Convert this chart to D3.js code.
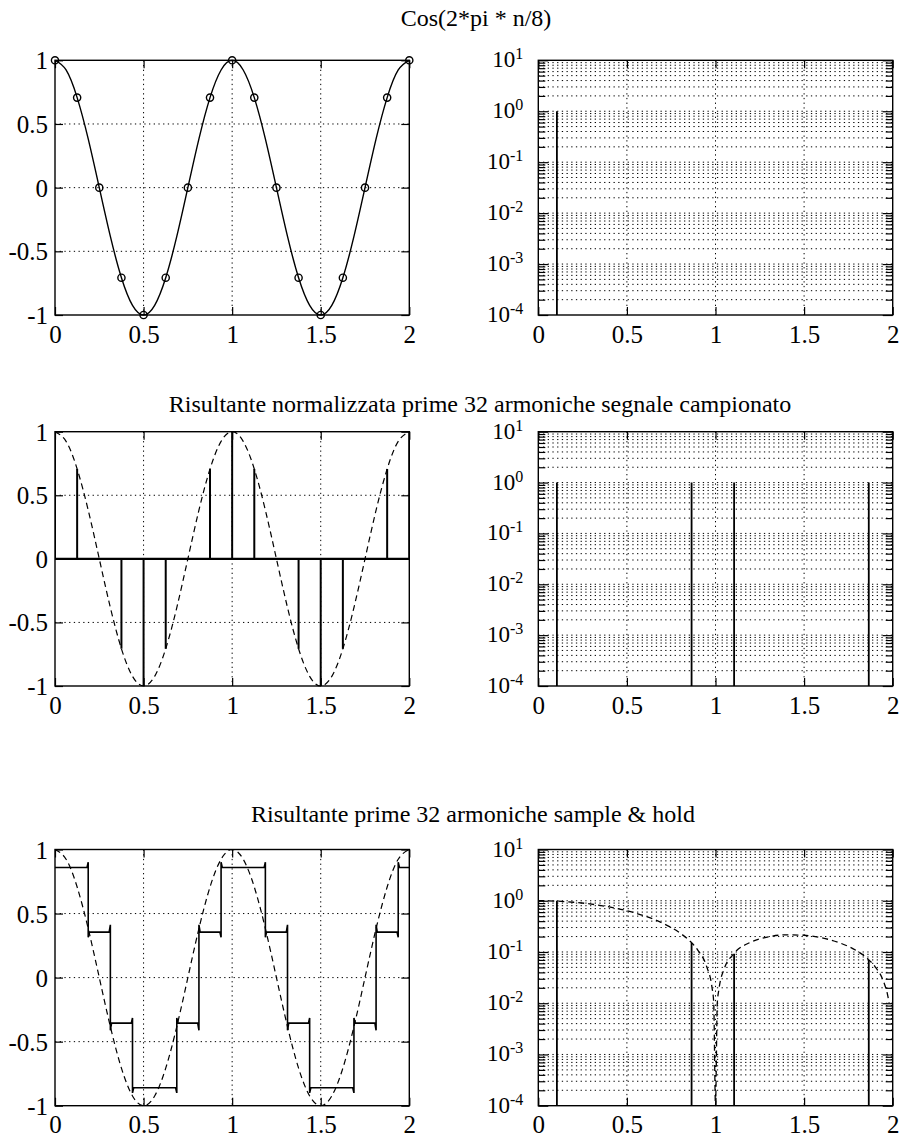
<!DOCTYPE html>
<html><head><meta charset="utf-8">
<script src="https://cdn.jsdelivr.net/npm/d3@7"></script>
<style>
body{margin:0;background:#fff}
svg{display:block;background:#fff}
text{font-family:"Liberation Serif","Times New Roman",serif;fill:#000}
</style></head><body>
<svg id="c" width="901" height="1137"></svg>
<script>
// ---------- data ----------
const xTicks = [0, 0.5, 1, 1.5, 2];
const xTickLabels = ["0", "0.5", "1", "1.5", "2"];
const yTicksLin = [-1, -0.5, 0, 0.5, 1];
const yTickLabelsLin = ["-1", "-0.5", "0", "0.5", "1"];
const logExps = [-4, -3, -2, -1, 0, 1];
const logExpLabels = ["-4", "-3", "-2", "-1", "0", "1"];
const titles = ["Cos(2*pi * n/8)",
  "Risultante normalizzata prime 32 armoniche segnale campionato",
  "Risultante prime 32 armoniche sample & hold"];
const titleCenters = [476, 480, 473];

// samples of cos(2*pi*n/8)
const sampleX = [0, 0.125, 0.25, 0.375, 0.5, 0.625, 0.75, 0.875, 1, 1.125, 1.25, 1.375, 1.5, 1.625, 1.75, 1.875, 2];
const sampleY = [1, 0.707, 0, -0.707, -1, -0.707, 0, 0.707, 1, 0.707, 0, -0.707, -1, -0.707, 0, 0.707, 1];

// continuous cosine read at 1/16 steps
const cosX = [0, 0.0625, 0.125, 0.1875, 0.25, 0.3125, 0.375, 0.4375, 0.5, 0.5625, 0.625, 0.6875, 0.75, 0.8125, 0.875, 0.9375,
  1, 1.0625, 1.125, 1.1875, 1.25, 1.3125, 1.375, 1.4375, 1.5, 1.5625, 1.625, 1.6875, 1.75, 1.8125, 1.875, 1.9375, 2];
const cosY = [1, 0.924, 0.707, 0.383, 0, -0.383, -0.707, -0.924, -1, -0.924, -0.707, -0.383, 0, 0.383, 0.707, 0.924,
  1, 0.924, 0.707, 0.383, 0, -0.383, -0.707, -0.924, -1, -0.924, -0.707, -0.383, 0, 0.383, 0.707, 0.924, 1];

// spectra (log plots)
const spec1X = [0.105];
const spec1Y = [1];
const spec2X = [0.105, 0.865, 1.105, 1.865];
const spec2Y = [1, 1, 1, 1];
const spec3X = [0.105, 0.865, 1.105, 1.865];
const spec3Y = [1, 0.15, 0.092, 0.07];

// |sinc| envelope (dashed, bottom right)
const envX = [0, 0.05, 0.1, 0.2, 0.3, 0.4, 0.5, 0.6, 0.7, 0.8, 0.86, 0.9, 0.95, 0.98, 0.99, 1.0, 1.01, 1.02, 1.05, 1.1,
  1.2, 1.3, 1.4, 1.5, 1.6, 1.7, 1.8, 1.86, 1.9, 1.95, 1.97, 1.98];
const envY = [1, 0.996, 0.984, 0.935, 0.858, 0.757, 0.637, 0.505, 0.368, 0.234, 0.158, 0.109, 0.052, 0.0205, 0.0102, 0.0001,
  0.0099, 0.0194, 0.0476, 0.0899, 0.156, 0.198, 0.216, 0.212, 0.189, 0.151, 0.104, 0.073, 0.052, 0.0256, 0.0152, 0.0102];

// sample & hold staircase (32 harmonics)
const shBreaks = [0, 0.1875, 0.3125, 0.4375, 0.6875, 0.8125, 0.9375, 1.1875, 1.3125, 1.4375, 1.6875, 1.8125, 1.9375, 2];
const shLevels = [0.86, 0.355, -0.355, -0.86, -0.355, 0.355, 0.86, 0.355, -0.355, -0.86, -0.355, 0.355, 0.86];
const gibbsFrac = 0.08;

// ---------- layout ----------
const FONT = '"Liberation Serif","Times New Roman",serif';
const svg = d3.select('#c');
const cols = [{x0: 55, x1: 409.3}, {x0: 538.3, x1: 892.7}];
const rows = [{y0: 60.3, y1: 315}, {y0: 431.7, y1: 686}, {y0: 849.5, y1: 1105.7}];
const titleBase = [26, 412, 822];
const dotted = "1.3,3.4";

titles.forEach((t, i) => {
  svg.append('text').attr('x', titleCenters[i]).attr('y', titleBase[i])
    .attr('text-anchor', 'middle').attr('font-size', 24).attr('font-family', FONT).text(t);
});

function styleAxis(g) {
  g.attr('font-family', FONT).attr('font-size', null);
  g.select('.domain').remove();
  g.selectAll('line').attr('stroke', '#000').attr('stroke-width', 1.2);
  g.selectAll('text').attr('font-family', FONT).attr('fill', '#000');
}

function panel(c, r, log) {
  const C = cols[c], Rw = rows[r];
  const g = svg.append('g');
  const x = d3.scaleLinear([0, 2], [C.x0, C.x1]);
  const y = log ? d3.scaleLog([1e-4, 10], [Rw.y1, Rw.y0]) : d3.scaleLinear([-1, 1], [Rw.y1, Rw.y0]);
  const clipId = 'clip' + c + r;
  svg.append('clipPath').attr('id', clipId).append('rect')
    .attr('x', C.x0).attr('y', Rw.y0 - 1).attr('width', C.x1 - C.x0).attr('height', Rw.y1 - Rw.y0 + 2);

  // grid
  const grid = g.append('g').attr('stroke', '#000').attr('stroke-width', 1).attr('stroke-dasharray', dotted);
  xTicks.slice(1, -1).forEach(v => grid.append('line').attr('x1', x(v)).attr('x2', x(v)).attr('y1', Rw.y0).attr('y2', Rw.y1));
  let hVals;
  if (log) {
    hVals = [];
    logExps.slice(0, -1).forEach(e => { for (let k = 1; k <= 9; k++) hVals.push(k * Math.pow(10, e)); });
    hVals = hVals.slice(1);
  } else hVals = yTicksLin.slice(1, -1);
  hVals.forEach(v => grid.append('line').attr('x1', C.x0).attr('x2', C.x1).attr('y1', y(v)).attr('y2', y(v)));

  // ticks (inward) via d3 axes
  const xb = g.append('g').attr('transform', `translate(0,${Rw.y1})`)
    .call(d3.axisBottom(x).tickValues(xTicks).tickSize(-8).tickPadding(10).tickFormat((d, i) => xTickLabels[i]));
  styleAxis(xb);
  xb.selectAll('text').attr('font-size', 25).attr('dy', '0.71em');
  const xt = g.append('g').attr('transform', `translate(0,${Rw.y0})`)
    .call(d3.axisTop(x).tickValues(xTicks).tickSize(-8).tickFormat(''));
  styleAxis(xt);

  if (log) {
    const majors = logExps.map(e => Math.pow(10, e));
    const minors = hVals.filter(v => !majors.some(m => Math.abs(m - v) / m < 1e-9));
    [[d3.axisLeft, C.x0], [d3.axisRight, C.x1]].forEach(([ax, px]) => {
      const a1 = g.append('g').attr('transform', `translate(${px},0)`)
        .call(ax(y).tickValues(majors).tickSize(-10).tickFormat(''));
      styleAxis(a1);
      const a2 = g.append('g').attr('transform', `translate(${px},0)`)
        .call(ax(y).tickValues(minors).tickSize(-7).tickFormat(''));
      styleAxis(a2);
    });
    logExps.forEach((e, i) => {
      const t = g.append('text').attr('x', C.x0 - 15).attr('y', y(Math.pow(10, e)) + 7)
        .attr('text-anchor', 'end').attr('font-size', 23).attr('font-family', FONT);
      t.append('tspan').text('10');
      t.append('tspan').attr('dy', -8).attr('font-size', 16).text(logExpLabels[i]);
    });
  } else {
    const yl = g.append('g').attr('transform', `translate(${C.x0},0)`)
      .call(d3.axisLeft(y).tickValues(yTicksLin).tickSize(-8).tickPadding(7).tickFormat((d, i) => yTickLabelsLin[i]));
    styleAxis(yl);
    yl.selectAll('text').attr('font-size', 25).attr('dy', '0.34em');
    const yr = g.append('g').attr('transform', `translate(${C.x1},0)`)
      .call(d3.axisRight(y).tickValues(yTicksLin).tickSize(-8).tickFormat(''));
    styleAxis(yr);
  }
  // box
  g.append('rect').attr('x', C.x0).attr('y', Rw.y0).attr('width', C.x1 - C.x0).attr('height', Rw.y1 - Rw.y0)
    .attr('fill', 'none').attr('stroke', '#000').attr('stroke-width', 1.4);
  const plot = svg.append('g').attr('clip-path', `url(#${clipId})`);
  return {x, y, plot};
}

// ---- Panel 1: cosine with samples ----
{
  const {x, y, plot} = panel(0, 0, false);
  const pts = cosX.map((v, i) => [v, cosY[i]]);
  plot.append('path').attr('d', d3.line().x(d => x(d[0])).y(d => y(d[1])).curve(d3.curveNatural)(pts))
    .attr('fill', 'none').attr('stroke', '#000').attr('stroke-width', 1.4);
  svg.append('g').selectAll('circle').data(sampleX).join('circle')
    .attr('cx', d => x(d)).attr('cy', (d, i) => y(sampleY[i])).attr('r', 3.6)
    .attr('fill', 'none').attr('stroke', '#000').attr('stroke-width', 1.4);
}
function spectrum(c, r, sx, sy, extra) {
  const {x, y, plot} = panel(c, r, true);
  plot.selectAll('line.s').data(sx).join('line').attr('class', 's')
    .attr('x1', d => x(d)).attr('x2', d => x(d)).attr('y1', y(1e-4)).attr('y2', (d, i) => y(sy[i]))
    .attr('stroke', '#000').attr('stroke-width', 1.8);
  if (extra) extra(x, y, plot);
}
spectrum(1, 0, spec1X, spec1Y);

// ---- Panel 3: stems ----
{
  const {x, y, plot} = panel(0, 1, false);
  const pts = cosX.map((v, i) => [v, cosY[i]]);
  plot.append('path').attr('d', d3.line().x(d => x(d[0])).y(d => y(d[1])).curve(d3.curveNatural)(pts))
    .attr('fill', 'none').attr('stroke', '#000').attr('stroke-width', 1.2).attr('stroke-dasharray', '6,4');
  plot.append('line').attr('x1', x(0)).attr('x2', x(2)).attr('y1', y(0)).attr('y2', y(0))
    .attr('stroke', '#000').attr('stroke-width', 2.2);
  plot.selectAll('line.s').data(sampleX).join('line').attr('class', 's')
    .attr('x1', d => x(d)).attr('x2', d => x(d)).attr('y1', y(0)).attr('y2', (d, i) => y(sampleY[i]))
    .attr('stroke', '#000').attr('stroke-width', 2);
}
spectrum(1, 1, spec2X, spec2Y);

// ---- Panel 5: sample & hold ----
{
  const {x, y, plot} = panel(0, 2, false);
  const pts = cosX.map((v, i) => [v, cosY[i]]);
  plot.append('path').attr('d', d3.line().x(d => x(d[0])).y(d => y(d[1])).curve(d3.curveNatural)(pts))
    .attr('fill', 'none').attr('stroke', '#000').attr('stroke-width', 1.2).attr('stroke-dasharray', '6,4');
  const dx = x.invert(x(0) + 1.2) - 0;
  const sp = [];
  shLevels.forEach((lv, i) => {
    const xa = shBreaks[i], xb = shBreaks[i + 1];
    sp.push([i === 0 ? xa : xa + dx, lv]);
    if (i < shLevels.length - 1) {
      const nb = shLevels[i + 1], s = Math.sign(lv - nb), o = gibbsFrac * Math.abs(lv - nb);
      sp.push([xb - dx, lv]);
      sp.push([xb, lv + s * o]);
      sp.push([xb, nb - s * o]);
    } else sp.push([xb, lv]);
  });
  plot.append('path').attr('d', d3.line().x(d => x(d[0])).y(d => y(d[1]))(sp))
    .attr('fill', 'none').attr('stroke', '#000').attr('stroke-width', 1.6);
}
spectrum(1, 2, spec3X, spec3Y, (x, y, plot) => {
  const pts = envX.map((v, i) => [v, envY[i]]);
  plot.append('path').attr('d', d3.line().x(d => x(d[0])).y(d => y(d[1])).curve(d3.curveMonotoneX)(pts))
    .attr('fill', 'none').attr('stroke', '#000').attr('stroke-width', 1.3).attr('stroke-dasharray', '6,4');
});
</script>
</body></html>
